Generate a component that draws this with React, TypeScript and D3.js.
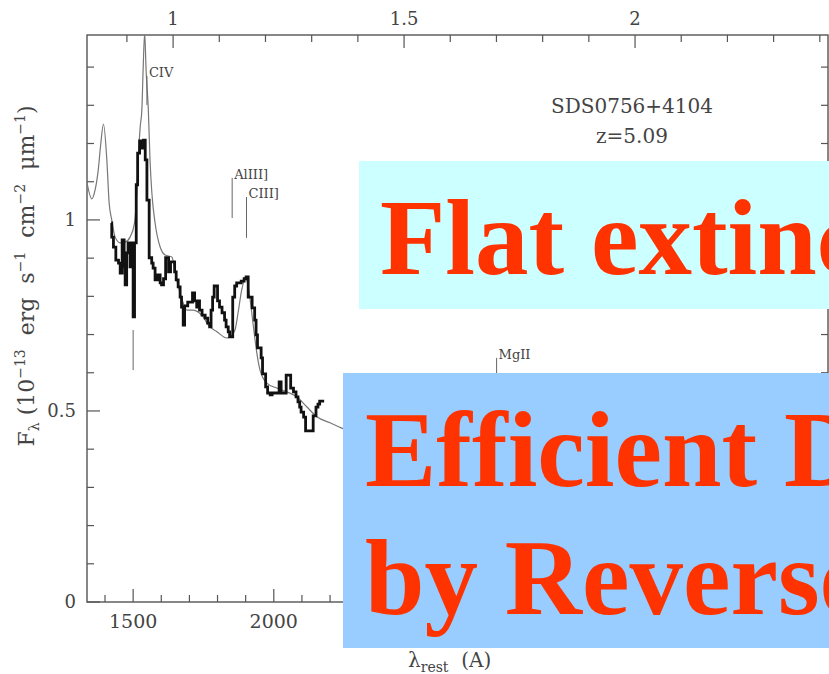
import React from 'react';
import * as d3 from 'd3';

// rest-frame wavelength (A) / flux (1e-13 erg s^-1 cm^-2 um^-1)
const redshift = 5.09;

// observed spectrum, histogram bins (left edge, flux)
const obsLambda = [
  1422, 1424, 1430, 1438.5, 1448, 1454, 1461, 1468, 1471.6, 1477, 1482, 1489, 1495, 1500, 1505,
  1511, 1516, 1523, 1532, 1537, 1543, 1549, 1557, 1566, 1571, 1578, 1587, 1596, 1601, 1608,
  1615.5, 1626, 1633, 1647.5, 1653, 1660, 1667, 1672, 1678, 1683, 1694, 1711, 1718.5, 1726, 1731,
  1736, 1745, 1756, 1765, 1772, 1777, 1782.5, 1788, 1800, 1807, 1816, 1825, 1830.5, 1838, 1843,
  1854, 1861, 1868, 1884, 1894.5, 1901.6, 1909, 1923, 1932, 1937, 1942, 1955, 1960, 1971, 1978,
  1987, 1994, 2019, 2026, 2044, 2060, 2070, 2079, 2086, 2092, 2097, 2106, 2113, 2140, 2150,
  2157, 2163, 2179,
];
const obsFlux = [
  0.992, 0.955, 0.929, 0.895, 0.887, 0.861, 0.948, 0.877, 0.83, 0.914, 0.94, 0.877, 0.94, 0.746, 0.94,
  1.092, 1.175, 1.207, 1.188, 1.209, 1.157, 1.052, 0.901, 0.887, 0.874, 0.843, 0.856, 0.835, 0.83, 0.846,
  0.901, 0.864, 0.89, 0.864, 0.843, 0.825, 0.798, 0.772, 0.725, 0.775, 0.785, 0.809, 0.788, 0.772, 0.788,
  0.764, 0.751, 0.743, 0.73, 0.72, 0.764, 0.798, 0.827, 0.788, 0.772, 0.757, 0.738, 0.72, 0.707, 0.694,
  0.798, 0.827, 0.835, 0.84, 0.846, 0.851, 0.798, 0.77, 0.738, 0.699, 0.665, 0.639, 0.597, 0.563, 0.547,
  0.542, 0.547, 0.576, 0.547, 0.594, 0.56, 0.55, 0.537, 0.524, 0.51, 0.497, 0.484, 0.448, 0.487, 0.51,
  0.518, 0.526, 0.526,
];

// model (thin line)
const modelLambda = [
  1336, 1353, 1365, 1376, 1384.5, 1394.5, 1406.5, 1414.7, 1424, 1436, 1454, 1471.6, 1489, 1504.6, 1513,
  1518, 1525, 1531, 1535.5, 1541, 1546, 1554, 1560, 1566.5, 1578, 1596, 1614, 1637.5, 1655, 1677.7,
  1691, 1713, 1749, 1766.5, 1797, 1833, 1845, 1862, 1873, 1886, 1900, 1916, 1927.5, 1939.6, 1951,
  1975, 2010.7, 2046, 2082, 2117, 2153, 2200, 2241.6, 2300, 2450, 2600,
];
const modelFlux = [
  1.097, 1.055, 1.079, 1.131, 1.196, 1.251, 1.157, 1.045, 1.0, 0.955, 0.94, 0.942, 0.955, 0.991, 1.071,
  1.157, 1.243, 1.288, 1.393, 1.49, 1.393, 1.288, 1.157, 1.071, 0.992, 0.929, 0.908, 0.903, 0.843, 0.783,
  0.764, 0.764, 0.746, 0.725, 0.708, 0.691, 0.694, 0.712, 0.757, 0.817, 0.848, 0.791, 0.721, 0.652, 0.607,
  0.573, 0.56, 0.55, 0.537, 0.511, 0.485, 0.469, 0.455, 0.44, 0.42, 0.41,
];

// emission line markers
const lineNames = ['CIV', 'AlIII]', 'CIII]', 'MgII', ''];
const lineLambda = [1549, 1852, 1903, 2792, 1500];
const lineTop = [1.377, 1.11, 1.06, 0.639, 0.712];
const lineBottom = [1.301, 1.005, 0.953, 0.58, 0.607];

const bottomTicks = [1500, 2000, 2500, 3000, 3500];
const bottomLabels = [1500, 2000];
const topTicks = [1, 1.5, 2];
const yTicks = [0, 0.5, 1];

const W = 829;
const H = 674;
const serif = 'DejaVu Serif';
const axisColor = '#555';

export default function App() {
  const x = d3.scaleLinear().domain([1336, 3970]).range([87, 828]);
  const y = d3.scaleLinear().domain([0, 1.484]).range([602, 35]);
  const [x0, x1] = x.range();
  const [y0, y1] = y.range();
  const obsX = (um: number) => x((um * 1e4) / (1 + redshift));

  const obsLine = d3
    .line<number>()
    .x((_, i) => x(obsLambda[i]))
    .y((d) => y(d))
    .curve(d3.curveStepAfter);
  const modelLine = d3
    .line<number>()
    .x((_, i) => x(modelLambda[i]))
    .y((d) => y(d))
    .curve(d3.curveMonotoneX);

  const bottomMinor = d3.range(1400, 3970, 100);
  const topMinor = d3.range(0.9, 2.45, 0.1);
  const yMinor = d3.range(0, 1.45, 0.1);

  return (
    <svg width={W} height={H} style={{ position: 'fixed', left: 0, top: 0, background: '#fff' }}>
      <defs>
        <clipPath id="plot">
          <rect x={x0} y={y1} width={x1 - x0} height={y0 - y1} />
        </clipPath>
      </defs>
      <rect width={W} height={H} fill="#fff" />

      {/* frame */}
      <rect x={x0} y={y1} width={x1 - x0} height={y0 - y1} fill="none" stroke={axisColor} strokeWidth={1.4} />

      {/* bottom & top ticks */}
      {bottomMinor.map((v) => {
        const major = bottomTicks.includes(Math.round(v));
        return <line key={'b' + v} x1={x(v)} x2={x(v)} y1={y0} y2={y0 - (major ? 13 : 7)} stroke={axisColor} strokeWidth={1.2} />;
      })}
      {bottomLabels.map((v) => (
        <text key={'bl' + v} x={x(v)} y={628} textAnchor="middle" fontFamily={serif} fontSize={19} fill="#444">{v}</text>
      ))}
      {topMinor.map((v) => {
        const major = topTicks.some((t) => Math.abs(t - v) < 1e-6);
        return <line key={'t' + v} x1={obsX(v)} x2={obsX(v)} y1={y1} y2={y1 + (major ? 13 : 7)} stroke={axisColor} strokeWidth={1.2} />;
      })}
      {topTicks.map((v) => (
        <text key={'tl' + v} x={obsX(v)} y={25} textAnchor="middle" fontFamily={serif} fontSize={18} fill="#444">{v}</text>
      ))}

      {/* y ticks */}
      {yMinor.map((v) => {
        const major = yTicks.some((t) => Math.abs(t - v) < 1e-6);
        const len = major ? 13 : 7;
        return (
          <g key={'y' + v}>
            <line x1={x0} x2={x0 + len} y1={y(v)} y2={y(v)} stroke={axisColor} strokeWidth={1.2} />
            <line x1={x1} x2={x1 - len} y1={y(v)} y2={y(v)} stroke={axisColor} strokeWidth={1.2} />
          </g>
        );
      })}
      {yTicks.map((v) => (
        <text key={'yl' + v} x={76} y={y(v)} dy="0.36em" textAnchor="end" fontFamily={serif} fontSize={18} fill="#444">{v}</text>
      ))}

      {/* axis titles */}
      <text transform="translate(34,276) rotate(-90)" textAnchor="middle" fontFamily={serif} fontSize={22} fill="#444" style={{ whiteSpace: 'pre' }}>
        <tspan>F</tspan>
        <tspan fontSize={14} dy={5}>λ</tspan>
        <tspan dy={-5}> (10</tspan>
        <tspan fontSize={14} dy={-9}>−13</tspan>
        <tspan dy={9}>  erg  s</tspan>
        <tspan fontSize={14} dy={-9}>−1</tspan>
        <tspan dy={9}>  cm</tspan>
        <tspan fontSize={14} dy={-9}>−2</tspan>
        <tspan dy={9}>  μm</tspan>
        <tspan fontSize={14} dy={-9}>−1</tspan>
        <tspan dy={9}>)</tspan>
      </text>
      <text x={408} y={667} fontFamily={serif} fontSize={20} fill="#444" style={{ whiteSpace: 'pre' }}>
        <tspan>λ</tspan>
        <tspan fontSize={14} dy={5}>rest</tspan>
        <tspan dy={-5}>  (A)</tspan>
      </text>

      {/* object name */}
      <text x={632} y={113} textAnchor="middle" fontFamily={serif} fontSize={20} fill="#444">SDS0756+4104</text>
      <text x={632} y={143} textAnchor="middle" fontFamily={serif} fontSize={20} fill="#444">z=5.09</text>

      {/* spectra */}
      <g clipPath="url(#plot)">
        <path d={modelLine(modelFlux) ?? ''} fill="none" stroke="#777" strokeWidth={1.2} />
        <path d={obsLine(obsFlux) ?? ''} fill="none" stroke="#111" strokeWidth={2.8} strokeLinejoin="miter" />
      </g>

      {/* line markers */}
      {lineLambda.map((l, i) => (
        <g key={'m' + i}>
          <line x1={x(l)} x2={x(l)} y1={y(lineTop[i])} y2={y(lineBottom[i])} stroke="#666" strokeWidth={1} />
          {lineNames[i] && (
            <text x={x(l) + 2} y={y(lineTop[i]) + 1} fontFamily={serif} fontSize={13} fill="#444">{lineNames[i]}</text>
          )}
        </g>
      ))}

      {/* overlay boxes */}
      <rect x={359} y={161} width={W - 359} height={148} fill="#CCFFFF" />
      <text x={380} y={274} fontFamily="Liberation Serif" fontWeight="bold" fontSize={107} fill="#FF3300">Flat extinction curve</text>
      <rect x={343} y={373} width={W - 343} height={275} fill="#99CCFF" />
      <text x={365} y={486} fontFamily="Liberation Serif" fontWeight="bold" fontSize={107} fill="#FF3300">Efficient Dust Destruction</text>
      <text x={365} y={614} fontFamily="Liberation Serif" fontWeight="bold" fontSize={107} fill="#FF3300">by Reverse Shock</text>
    </svg>
  );
}
